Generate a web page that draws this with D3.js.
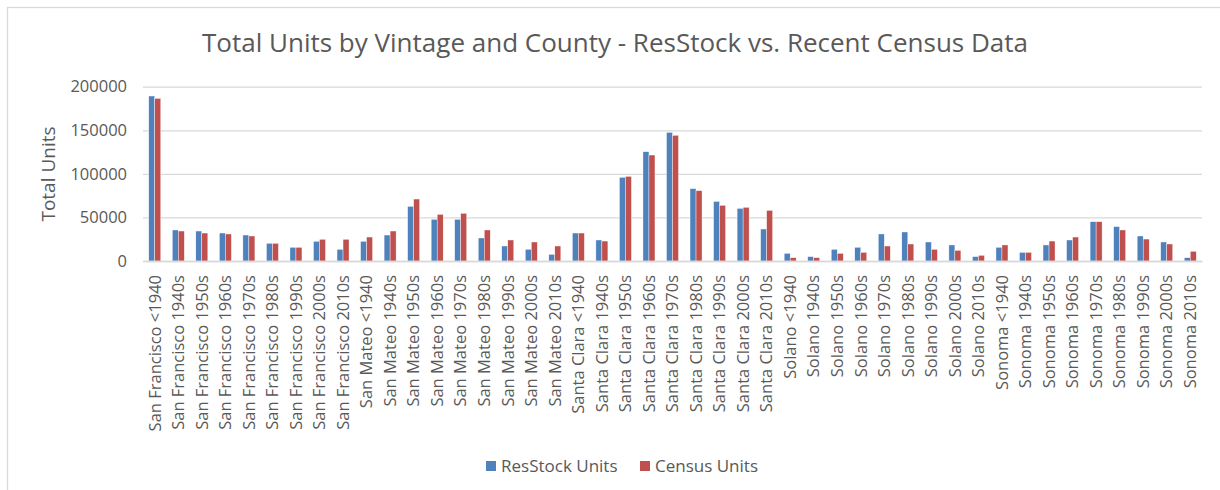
<!DOCTYPE html>
<html>
<head>
<meta charset="utf-8">
<script src="https://cdn.jsdelivr.net/npm/d3@7"></script>
<style>
  body { margin: 0; background: #fff; }
  text { font-family: "Open Sans", sans-serif; fill: #595959; }
</style>
</head>
<body>
<div id="chart"></div>
<script>
// DATA
const counties = ["San Francisco", "San Mateo", "Santa Clara", "Solano", "Sonoma"];
const vintages = ["<1940", "1940s", "1950s", "1960s", "1970s", "1980s", "1990s", "2000s", "2010s"];
const seriesNames = ["ResStock Units", "Census Units"];
const yTicks = [0, 50000, 100000, 150000, 200000];

const resstockUnits = [
    189300, 35600, 34400, 32100, 29800, 20300, 15700, 22600, 13400,   // San Francisco
    22600, 29800, 62700, 47800, 47800, 26400, 17200, 13400, 7650,     // San Mateo
    32100, 24100, 96000, 125400, 147600, 83000, 68400, 60400, 36700,  // Santa Clara
    8800, 5000, 13400, 15700, 31000, 33300, 21800, 18400, 5000,       // Solano
    15700, 9900, 18400, 24100, 45100, 39400, 28700, 21800, 3800       // Sonoma
];
const censusUnits = [
    186600, 34400, 32100, 31000, 28700, 20300, 15700, 24900, 24900,
    27500, 34400, 71100, 53500, 54700, 35600, 24100, 21800, 17200,
    32100, 22900, 97100, 121600, 144200, 80700, 63900, 61600, 58100,
    3800, 3800, 8800, 9900, 17200, 19500, 13400, 12200, 6500,
    18400, 9900, 22900, 27500, 45100, 35600, 25200, 19500, 11100
];

const categories = counties.flatMap(c => vintages.map(v => c + " " + v));
const rows = categories.map((cat, i) => ({
    cat: cat,
    values: [
        { key: seriesNames[0], value: resstockUnits[i] },
        { key: seriesNames[1], value: censusUnits[i] }
    ]
}));

// LAYOUT
const W = 1220, H = 490;
const plot = { left: 143, right: 1202, top: 86.7, bottom: 261 };

const svg = d3.select("#chart").append("svg")
    .attr("width", W)
    .attr("height", H);

// chart area border
svg.append("rect")
    .attr("x", 7.5).attr("y", 7.5)
    .attr("width", W).attr("height", H)
    .attr("fill", "none")
    .attr("stroke", "#d9d9d9")
    .attr("stroke-width", 1.3);

// SCALES
const x0 = d3.scaleBand()
    .domain(categories)
    .range([plot.left, plot.right])
    .paddingInner(0.49)
    .paddingOuter(0.245);

const x1 = d3.scaleBand()
    .domain(seriesNames)
    .range([0, x0.bandwidth()]);

const y = d3.scaleLinear()
    .domain([0, 200000])
    .range([plot.bottom, plot.top]);

const color = d3.scaleOrdinal()
    .domain(seriesNames)
    .range(["#4F81BD", "#C0504D"]);

// GRIDLINES + Y AXIS
const yAxis = svg.append("g")
    .attr("transform", `translate(${plot.left},0)`)
    .call(d3.axisLeft(y)
        .tickValues(yTicks)
        .tickFormat(d3.format("d"))
        .tickSize(-(plot.right - plot.left))
        .tickPadding(16));
yAxis.select(".domain").remove();
yAxis.selectAll(".tick line").attr("stroke", "#d9d9d9").attr("stroke-width", 1.3);
yAxis.selectAll(".tick text")
    .style("font-size", "16.5px")
    .style("font-family", "'Open Sans', sans-serif")
    .attr("fill", "#595959");

// BARS
const groups = svg.append("g").selectAll("g")
    .data(rows)
    .enter().append("g")
    .attr("transform", d => `translate(${x0(d.cat)},0)`);

groups.selectAll("rect")
    .data(d => d.values)
    .enter().append("rect")
    .attr("x", d => x1(d.key))
    .attr("y", d => y(d.value))
    .attr("width", x1.bandwidth())
    .attr("height", d => y(0) - y(d.value))
    .attr("fill", d => color(d.key))
    .attr("stroke", "#fff")
    .attr("stroke-width", 0.4);

// X AXIS
const xAxis = svg.append("g")
    .attr("transform", `translate(0,${plot.bottom})`)
    .call(d3.axisBottom(x0).tickSize(0).tickPadding(0));
xAxis.select(".domain").attr("stroke", "#d9d9d9").attr("stroke-width", 1.3);
xAxis.selectAll(".tick text")
    .attr("transform", "rotate(-90)")
    .attr("x", -14)
    .attr("y", 0)
    .attr("dy", "0.35em")
    .style("text-anchor", "end")
    .style("font-size", "16.5px")
    .style("font-family", "'Open Sans', sans-serif")
    .attr("fill", "#595959");

// TITLE
svg.append("text")
    .attr("x", 615)
    .attr("y", 52)
    .style("text-anchor", "middle")
    .style("font-size", "26px")
    .text("Total Units by Vintage and County - ResStock vs. Recent Census Data");

// Y LABEL
svg.append("text")
    .attr("transform", "rotate(-90)")
    .attr("x", -174)
    .attr("y", 55)
    .style("text-anchor", "middle")
    .style("font-size", "19px")
    .text("Total Units");

// LEGEND
const legend = svg.append("g")
    .attr("transform", "translate(486,466)");
const legendX = [0, 154];
const items = legend.selectAll("g")
    .data(seriesNames)
    .enter().append("g")
    .attr("transform", (d, i) => `translate(${legendX[i]},0)`);
items.append("rect")
    .attr("x", 0).attr("y", -5)
    .attr("width", 10).attr("height", 10)
    .attr("fill", d => color(d));
items.append("text")
    .attr("x", 15)
    .attr("dy", "0.35em")
    .style("font-size", "17px")
    .text(d => d);
</script>
</body>
</html>
